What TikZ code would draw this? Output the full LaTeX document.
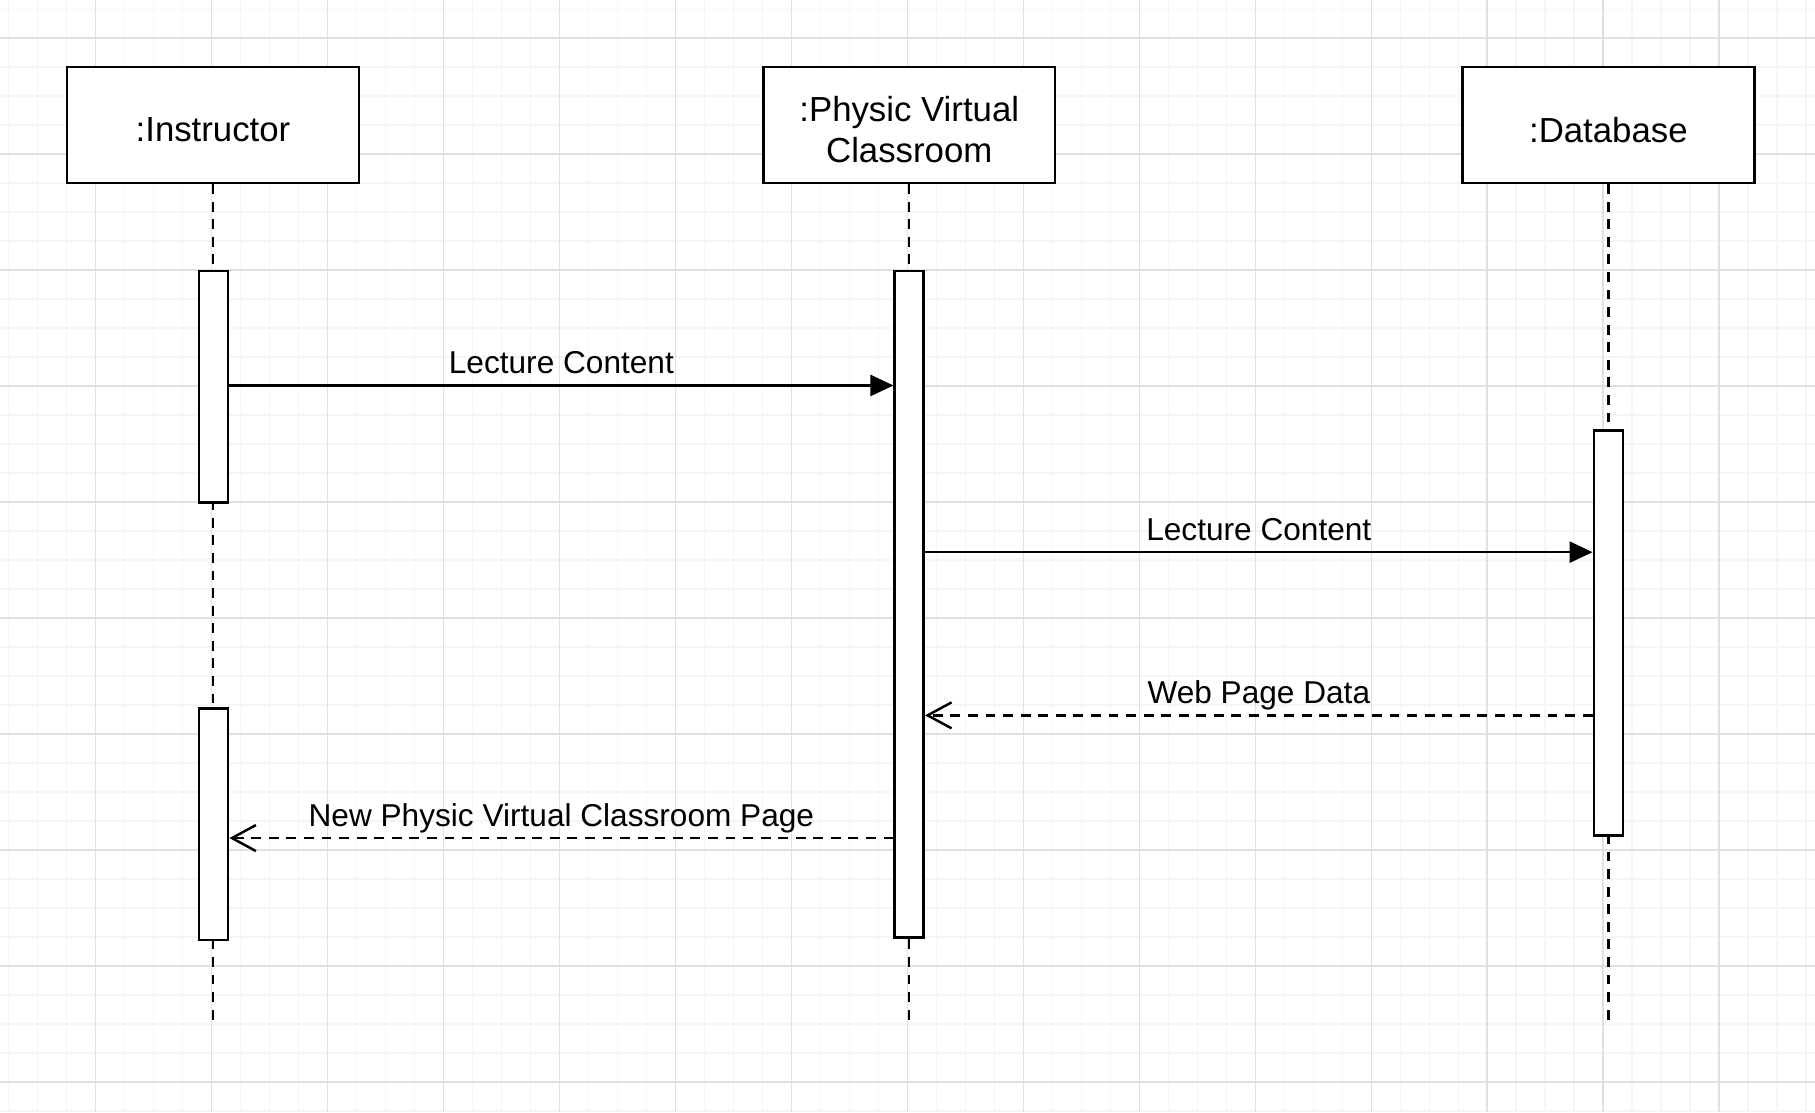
\documentclass[tikz,border=0pt]{standalone}
\usepackage{fontspec}
\setmainfont{Liberation Sans}
\usetikzlibrary{arrows.meta,positioning}
\def\u{0.011575cm}

\begin{document}
\begin{tikzpicture}[x=\u, y=-\u,
	head/.style={draw, line width=0.75pt, fill=white, minimum width=252*\u, minimum height=100*\u},
	headtext/.style={align=center, yshift=-1.4pt, font=\fontsize{9.9}{11.6}\selectfont},
	bar/.style={draw, line width=0.75pt, fill=white, minimum width=25*\u, inner sep=0pt},
	life/.style={line width=0.7pt, dash pattern=on 2.8pt off 2.2pt},
	call/.style={line width=0.7pt, -{Triangle[length=2.3mm,width=2.1mm]}},
	reply/.style={line width=0.7pt, dash pattern=on 2.8pt off 2.2pt, -{Straight Barb[length=2.4mm,width=2.6mm]}},
	msg/.style={midway, anchor=base, yshift=3.4pt, inner sep=0pt, font=\fontsize{9}{11}\selectfont}]
			%%%%% START %%%%%
			
			\useasboundingbox (0,0) rectangle (1568,961);
			\fill[white] (0,0) rectangle (1568,961);
			\begin{scope}
			\clip (0,0) rectangle (1568,961);
			\foreach \k in {0,...,66}
				\draw[line width=0.4pt, color=black!4] (-17.8+25.05*\k,0) -- (-17.8+25.05*\k,961)
					(0,-67.2+25.05*\k) -- (1568,-67.2+25.05*\k);
			\foreach \k in {0,...,16}
				\draw[line width=0.4pt, color=black!12] (-17.8+100.2*\k,0) -- (-17.8+100.2*\k,961)
					(0,-67.2+100.2*\k) -- (1568,-67.2+100.2*\k);
			\end{scope}
			
			\coordinate (instEnd) at (184,885);
			\coordinate (physEnd) at (785.5,885);
			\coordinate (dbEnd) at (1389.5,885);
			
			\node[head, label={[headtext]center:{:Instructor}}] (inst) at (184,108) {};
			\node[head, label={[headtext]center:{:Physic Virtual\\Classroom}}] (phys) at (785.5,108) {};
			\node[head, label={[headtext]center:{:Database}}] (db) at (1389.5,108) {};
			
			\draw[life] (inst) -- (instEnd);
			\draw[life] (phys) -- (physEnd);
			\draw[life] (db) -- (dbEnd);
			
			\node[bar, minimum height=200*\u] (inst1) at (184.5,334) {};
			\node[bar, minimum height=200*\u] (inst2) at (184.5,712) {};
			\node[bar, minimum height=576*\u] (physAct) at (785.5,522) {};
			\node[bar, minimum height=350*\u] (dbAct) at (1389.5,547) {};
			
			\draw[call] (inst1.east |- 0,333) -- (physAct.west |- 0,333) node[msg] {Lecture Content};
			\draw[call] (physAct.east |- 0,477) -- (dbAct.west |- 0,477) node[msg] {Lecture Content};
			\draw[reply] (dbAct.west |- 0,618) -- (physAct.east |- 0,618) node[msg] {Web Page Data};
			\draw[reply] (physAct.west |- 0,724) -- (inst2.east |- 0,724) node[msg] {New Physic Virtual Classroom Page};
			
			%%%%% END %%%%%
\end{tikzpicture}
\end{document}
